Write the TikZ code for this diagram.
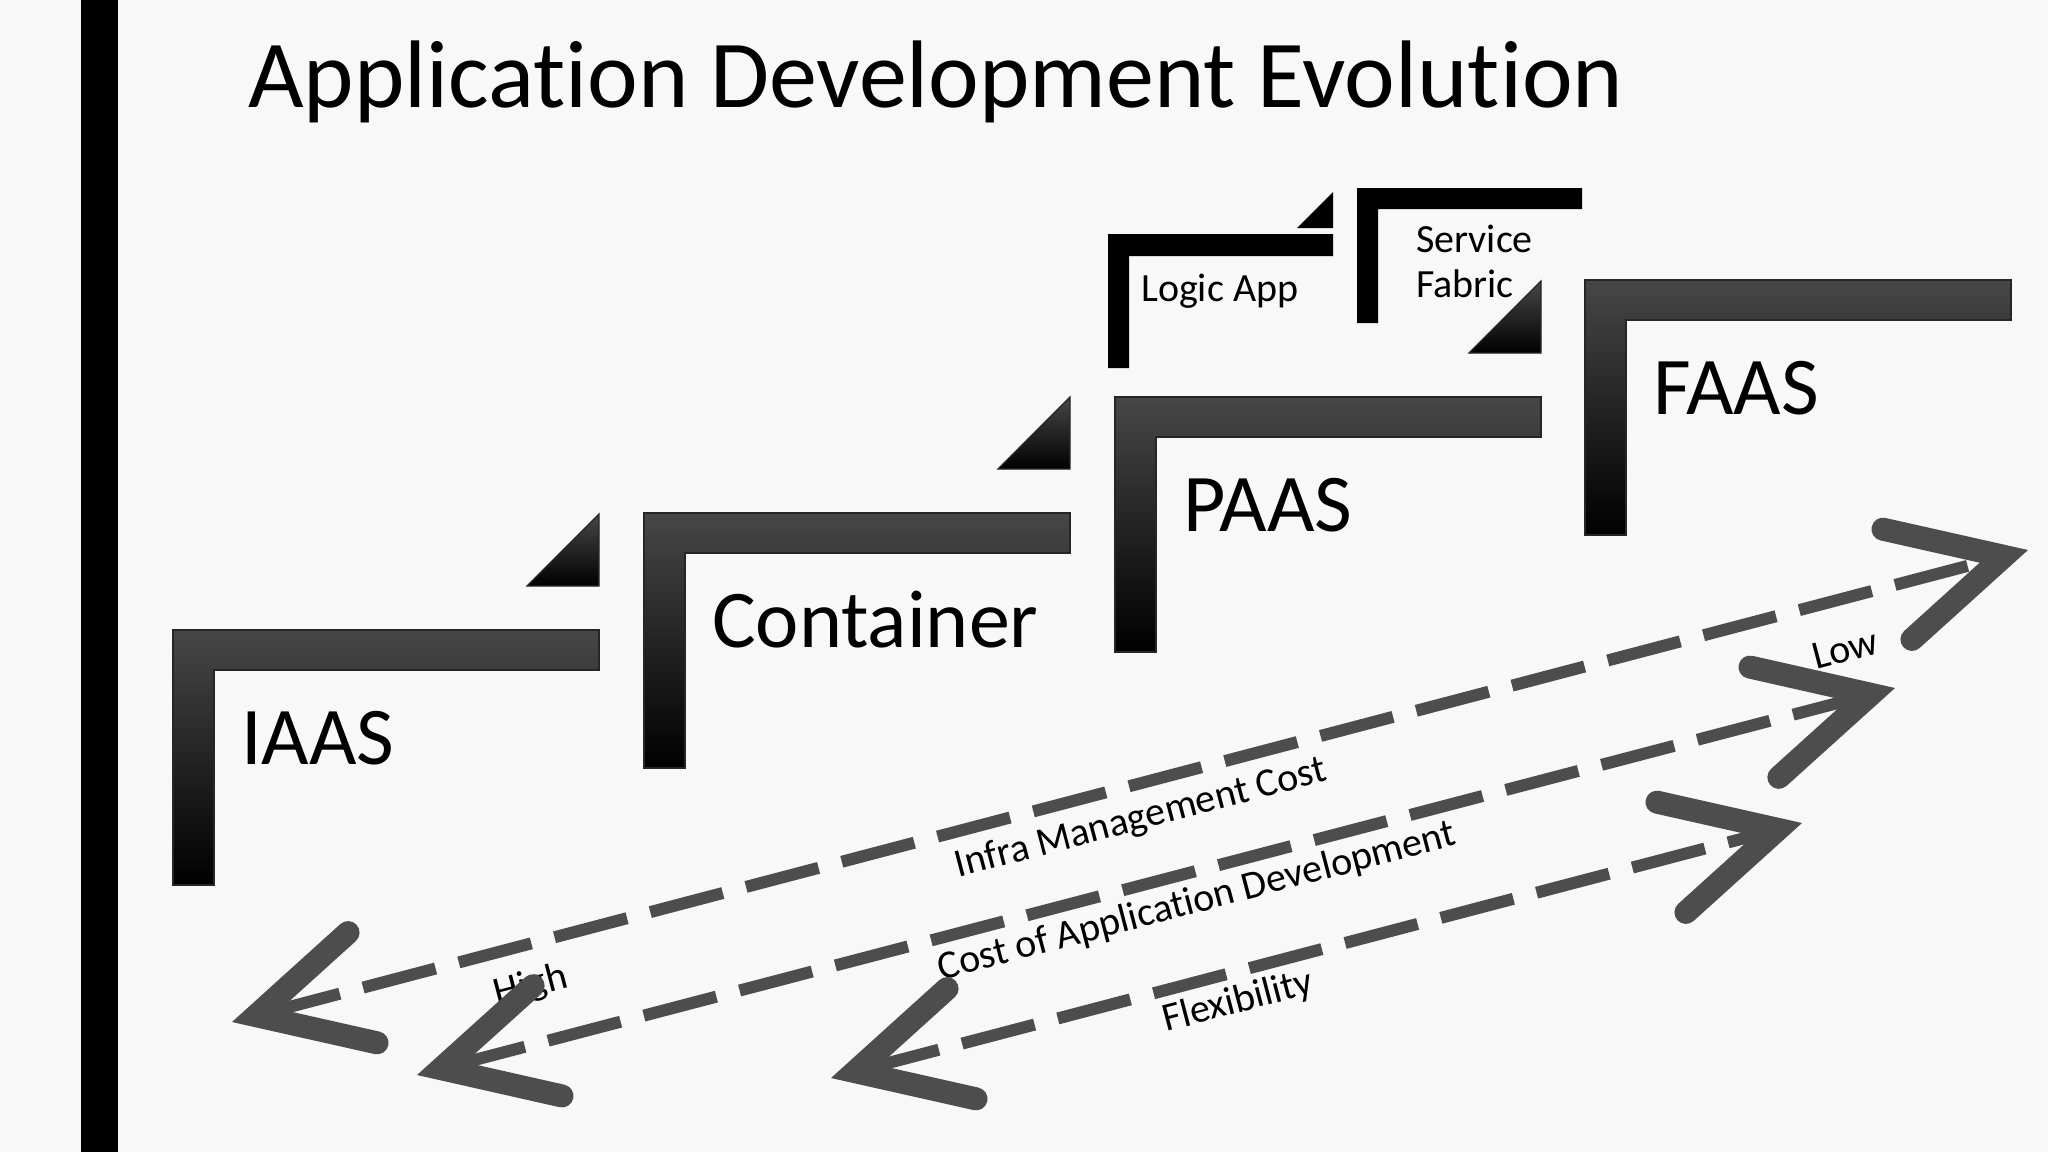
\documentclass[tikz,border=0pt]{standalone}
\usepackage{fontspec}
\setmainfont{Carlito}[Ligatures=NoCommon]
\usetikzlibrary{arrows.meta,positioning}
\definecolor{SlideWhite}{HTML}{F8F8F8}
\definecolor{StepGrey}{HTML}{474747}
\definecolor{FlowGrey}{HTML}{4D4D4D}

\begin{document}
\begin{tikzpicture}[
  x=1pt, y=-1pt,
  stair/.style={draw=black!85, line width=1.2pt, top color=StepGrey,
                middle color=black, bottom color=black},
  substair/.style={fill=black},
  tier/.style={anchor=base west, inner sep=0pt, font=\fontsize{82}{90}\selectfont},
  subtier/.style={anchor=base west, inner sep=0pt, align=left,
                  font=\fontsize{40}{45}\selectfont},
  axislabel/.style={rotate=14.7, inner sep=0pt, font=\fontsize{40}{44}\selectfont},
  flow/.style={draw=FlowGrey, line width=12pt, dash pattern=on 75pt off 24pt,
    arrows={Straight Barb[length=110pt, width=114pt, line width=23pt, line cap=round, line join=miter]-Straight Barb[length=110pt, width=114pt, line width=23pt, line cap=round, line join=miter]}}
]
\useasboundingbox (0,0) rectangle (2048,1152);
\fill[SlideWhite] (0,0) rectangle (2048,1152);
\fill[black] (81,0) rectangle (118,1152);

\node[anchor=base west, inner sep=0pt, font=\fontsize{96}{110}\selectfont] (title) at (248,107) {Application Development Evolution};

% steps
\draw[stair] (173,630) -- ++(426,0) -- ++(0,40) -- ++(-385,0) -- ++(0,215) -- ++(-41,0) -- cycle;
\draw[stair] (644,513) -- ++(426,0) -- ++(0,40) -- ++(-385,0) -- ++(0,215) -- ++(-41,0) -- cycle;
\draw[stair] (1115,397) -- ++(426,0) -- ++(0,40) -- ++(-385,0) -- ++(0,215) -- ++(-41,0) -- cycle;
\draw[stair] (1585,280) -- ++(426,0) -- ++(0,40) -- ++(-385,0) -- ++(0,215) -- ++(-41,0) -- cycle;
\draw[stair] (527,586) -- (599,514) -- (599,586) -- cycle;
\draw[stair] (998,469) -- (1070,397) -- (1070,469) -- cycle;
\draw[stair] (1469,353) -- (1541,281) -- (1541,353) -- cycle;

\node[tier] (iaas) at (241,764) {IAAS};
\node[tier] (container) at (712,647) {Container};
\node[tier] (paas) at (1183,531) {PAAS};
\node[tier] (faas) at (1653,414) {FAAS};

% small steps above PAAS
\fill[substair] (1108,234) -- ++(225,0) -- ++(0,22) -- ++(-204,0) -- ++(0,112) -- ++(-21,0) -- cycle;
\fill[substair] (1357,188) -- ++(225,0) -- ++(0,21) -- ++(-204,0) -- ++(0,114) -- ++(-21,0) -- cycle;
\fill[substair] (1297,228) -- (1333,192) -- (1333,228) -- cycle;
\node[subtier] (logicapp) at (1141,301) {Logic App};
\node[subtier] (fabric) at (1416,297) {Service\\Fabric};

% axes
\coordinate (infraHigh) at (232,1022);
\coordinate (infraLow) at (2028,550);
\coordinate (devHigh) at (417,1075);
\coordinate (devLow) at (1895,688);
\coordinate (flexHigh) at (831,1078);
\coordinate (flexLow) at (1802,823);

\node[axislabel] (infra) at (1141,819) {Infra Management Cost};
\node[axislabel] (appdev) at (1197,902) {Cost of Application Development};
\node[axislabel] (flex) at (1238,1002) {Flexibility};
\node[axislabel] (low) at (1845,649) {Low};
\node[axislabel] (high) at (531,986) {High};

\draw[flow] (infraHigh) -- (infraLow);
\draw[flow] (devHigh) -- (devLow);
\draw[flow] (flexHigh) -- (flexLow);
\end{tikzpicture}
\end{document}
